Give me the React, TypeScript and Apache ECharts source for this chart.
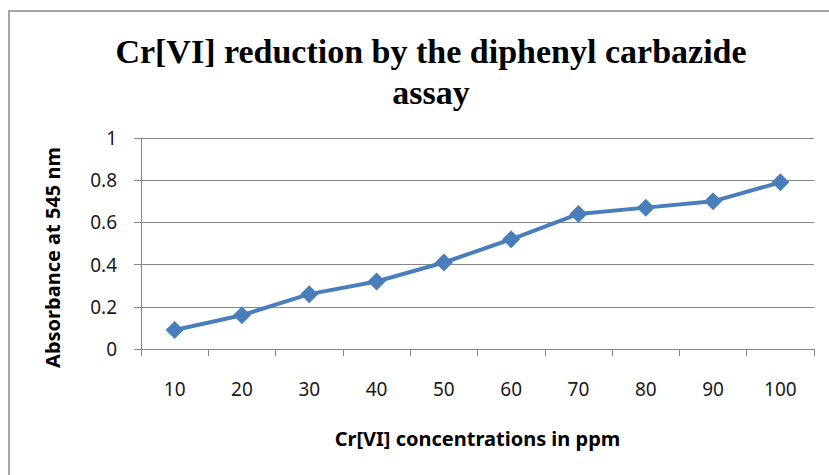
import React, { useEffect, useRef } from "react";
import * as echarts from "echarts";

const categories = ["10", "20", "30", "40", "50", "60", "70", "80", "90", "100"];
const absorbance = [0.09, 0.16, 0.26, 0.32, 0.41, 0.52, 0.64, 0.67, 0.7, 0.79];
const titleText = "Cr[VI] reduction by the diphenyl carbazide\nassay";
const xName = "Cr[VI] concentrations in ppm";
const yName = "Absorbance at 545 nm";

export default function App() {
  const ref = useRef<HTMLDivElement>(null);
  useEffect(() => {
    if (!ref.current) return;
    const chart = echarts.init(ref.current, null, { renderer: "svg" });
    const labelFont = "'Noto Sans', sans-serif";
    chart.setOption({
      animation: false,
      backgroundColor: "#ffffff",
      title: {
        text: titleText,
        left: 426,
        textAlign: "center",
        top: 26,
        textStyle: {
          fontFamily: "'Liberation Serif', serif",
          fontWeight: "bold",
          fontSize: 34,
          lineHeight: 41,
          color: "#000000",
        },
      },
      graphic: [
        {
          type: "rect",
          shape: { x: 9, y: 11, width: 840, height: 480 },
          style: { fill: "none", stroke: "#a6a6a6", lineWidth: 2 },
          silent: true,
        },
      ],
      grid: { left: 141, right: 15, top: 138, bottom: 126, containLabel: false },
      xAxis: {
        type: "category",
        data: categories,
        boundaryGap: true,
        name: xName,
        nameLocation: "middle",
        nameGap: 79,
        nameTextStyle: { fontFamily: labelFont, fontWeight: "bold", fontSize: 20, color: "#000" },
        axisLine: { show: true, lineStyle: { color: "#868686", width: 1 } },
        axisTick: { show: true, length: 7, lineStyle: { color: "#868686" } },
        axisLabel: { fontFamily: labelFont, fontSize: 19, color: "#1a1a1a", margin: 30 },
        splitLine: { show: false },
      },
      yAxis: {
        type: "value",
        min: 0,
        max: 1,
        interval: 0.2,
        name: yName,
        nameLocation: "middle",
        nameGap: 79,
        nameRotate: 90,
        nameTextStyle: {
          fontFamily: labelFont,
          fontWeight: "bold",
          fontSize: 20,
          color: "#000",
          padding: [0, 28, 0, 0],
        },
        axisLine: { show: true, lineStyle: { color: "#868686", width: 1 } },
        axisTick: { show: true, length: 7, lineStyle: { color: "#868686" } },
        axisLabel: {
          fontFamily: labelFont,
          fontSize: 19,
          color: "#1a1a1a",
          margin: 24,
          formatter: (v: number) => String(Math.round(v * 10) / 10),
        },
        splitLine: { show: true, lineStyle: { color: "#868686", width: 1 } },
      },
      series: [
        {
          type: "line",
          data: absorbance,
          symbol: "diamond",
          symbolSize: 18,
          lineStyle: { color: "#4a7ebb", width: 4 },
          itemStyle: { color: "#4a7ebb" },
        },
      ],
    });
    return () => chart.dispose();
  }, []);
  return (
    <div
      ref={ref}
      style={{ position: "fixed", left: 0, top: 0, width: 829, height: 475 }}
    />
  );
}
